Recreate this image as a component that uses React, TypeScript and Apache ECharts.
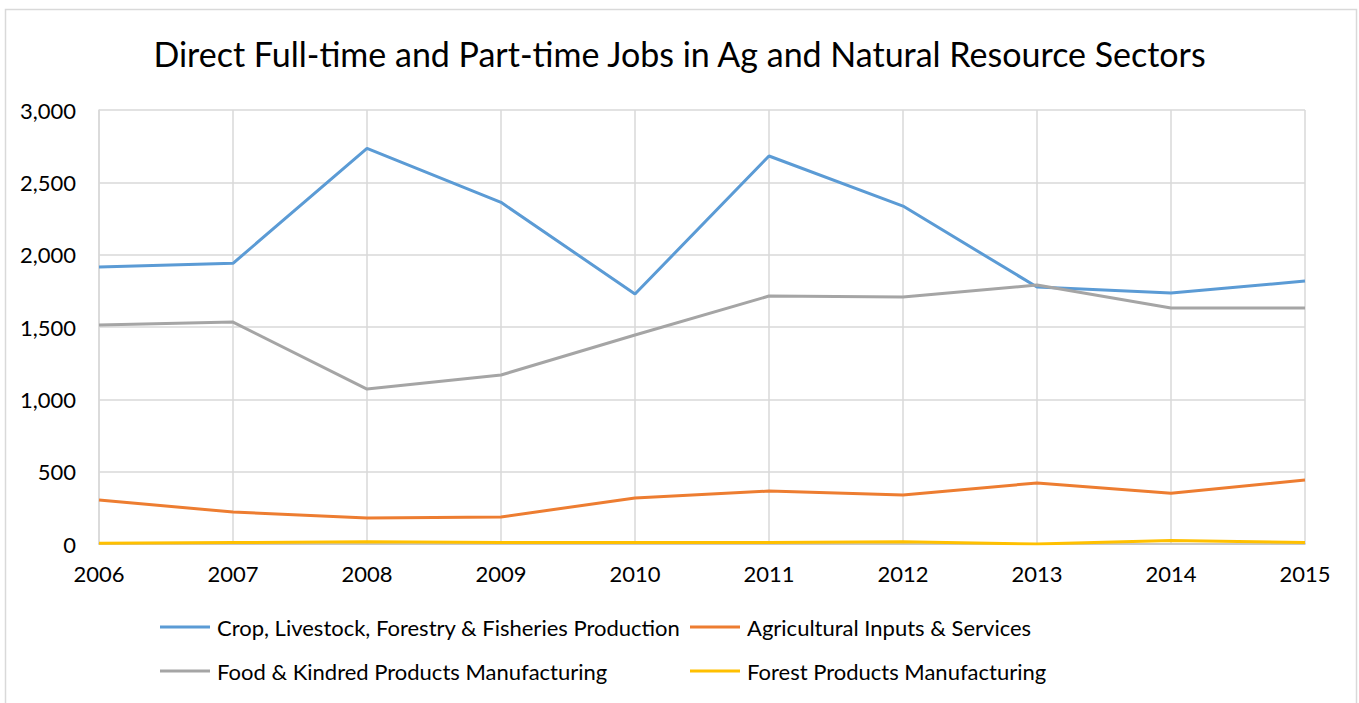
import React, { useEffect, useRef } from "react";
import * as echarts from "echarts";

const years = ["2006", "2007", "2008", "2009", "2010", "2011", "2012", "2013", "2014", "2015"];
const cropLivestock = [1915, 1940, 2735, 2362, 1728, 2682, 2336, 1776, 1735, 1818];
const agInputs = [304, 221, 180, 187, 318, 366, 339, 422, 350, 442];
const foodKindred = [1514, 1534, 1071, 1168, 1445, 1714, 1707, 1790, 1631, 1631];
const forestProducts = [5, 10, 15, 10, 10, 10, 15, 0, 25, 10];

const names = [
  "Crop, Livestock, Forestry & Fisheries Production",
  "Agricultural Inputs & Services",
  "Food & Kindred Products Manufacturing",
  "Forest Products Manufacturing",
];
const colors = ["#5B9BD5", "#ED7D31", "#A5A5A5", "#FFC000"];

const FONT = "Lato, 'Open Sans', sans-serif";

export default function App() {
  const ref = useRef<HTMLDivElement>(null);
  useEffect(() => {
    const chart = echarts.init(ref.current!, null, { renderer: "svg" });
    const datas = [cropLivestock, agInputs, foodKindred, forestProducts];
    chart.setOption({
      animation: false,
      backgroundColor: "#ffffff",
      title: {
        text: "Direct Full-time and Part-time Jobs in Ag and Natural Resource Sectors",
        left: "center",
        top: 31,
        textStyle: { fontFamily: FONT, fontSize: 34, fontWeight: "normal", color: "#000" },
      },
      graphic: [
        {
          type: "rect",
          shape: { x: 5.5, y: 9.5, width: 1351, height: 720 },
          style: { fill: "none", stroke: "#d9d9d9", lineWidth: 1.5 },
          silent: true,
        },
      ],
      grid: { left: 99, right: 54, top: 110, bottom: 159, containLabel: false },
      legend: [
        {
          orient: "vertical",
          left: 155,
          top: 611,
          itemGap: 22,
          itemWidth: 50,
          itemHeight: 3,
          icon: "rect",
          data: [names[0], names[2]],
          textStyle: { fontFamily: FONT, fontSize: 22, color: "#000", padding: [0, 0, 0, 2] },
        },
        {
          orient: "vertical",
          left: 685,
          top: 611,
          itemGap: 22,
          itemWidth: 50,
          itemHeight: 3,
          icon: "rect",
          data: [names[1], names[3]],
          textStyle: { fontFamily: FONT, fontSize: 22, color: "#000", padding: [0, 0, 0, 2] },
        },
      ],
      xAxis: {
        type: "category",
        data: years,
        boundaryGap: false,
        axisLine: { lineStyle: { color: "#bfbfbf", width: 1.5 } },
        axisTick: { show: false },
        splitLine: { show: true, lineStyle: { color: "#d9d9d9", width: 1.5 } },
        axisLabel: { fontFamily: FONT, fontSize: 22, color: "#000", margin: 18 },
      },
      yAxis: {
        type: "value",
        min: 0,
        max: 3000,
        interval: 500,
        axisLine: { show: true, lineStyle: { color: "#d9d9d9", width: 1.5 } },
        axisTick: { show: false },
        splitLine: { lineStyle: { color: "#d9d9d9", width: 1.5 } },
        axisLabel: {
          fontFamily: FONT,
          fontSize: 22,
          color: "#000",
          margin: 23,
          formatter: (v: number) => v.toLocaleString("en-US"),
        },
      },
      series: names.map((n, i) => ({
        name: n,
        type: "line",
        data: datas[i],
        symbol: "none",
        lineStyle: { color: colors[i], width: 3 },
        itemStyle: { color: colors[i] },
      })),
    });
    return () => chart.dispose();
  }, []);
  return (
    <div
      ref={ref}
      style={{ position: "absolute", left: 0, top: 0, width: 1359, height: 703 }}
    />
  );
}
